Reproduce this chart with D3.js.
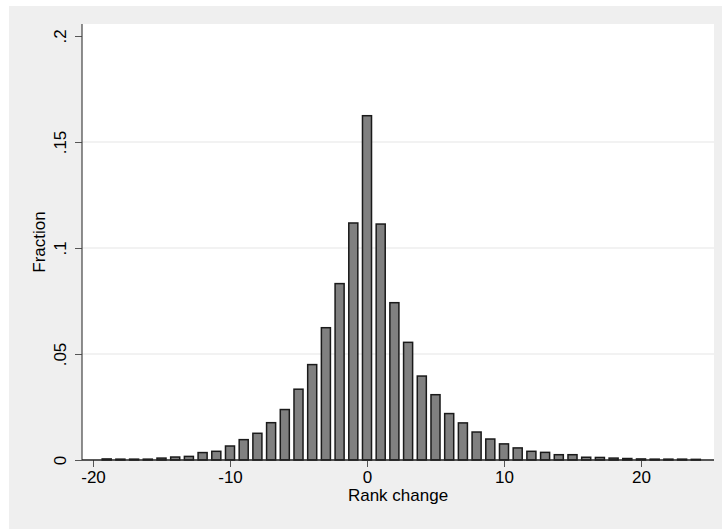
<!DOCTYPE html>
<html>
<head>
<meta charset="utf-8">
<script src="https://cdn.jsdelivr.net/npm/d3@7"></script>
<style>
  body { margin: 0; background: #fff; }
  svg { display: block; font-family: "Liberation Sans", Arial, sans-serif; }
</style>
</head>
<body>
<div id="chart"></div>
<script>
// Rank change histogram (fraction of observations per integer bin)
const rankChange = d3.range(-19, 25);
const fraction = [
  0.0005, 0.0004, 0.0004, 0.0004, 0.0009, 0.0014, 0.0017, 0.0035, 0.0041, 0.0066, // -19..-10
  0.0096, 0.0126, 0.0176, 0.0238, 0.0334, 0.0450, 0.0624, 0.0832, 0.1118,         // -9..-1
  0.1624,                                                                          // 0
  0.1113, 0.0742, 0.0555, 0.0396, 0.0308, 0.0219, 0.0175, 0.0132, 0.0099,         // 1..9
  0.0076, 0.0057, 0.0041, 0.0036, 0.0025, 0.0025, 0.0013, 0.0012, 0.0009, 0.0007, // 10..19
  0.0005, 0.0004, 0.0004, 0.0004, 0.0003                                           // 20..24
];
const xTicks = [-20, -10, 0, 10, 20];
const yTicks = [0, 0.05, 0.1, 0.15, 0.2];
const gridTicks = [0.05, 0.1, 0.15];
const xTitle = 'Rank change';
const yTitle = 'Fraction';

const width = 722, height = 529;
const plot = { left: 82, right: 714, top: 24, bottom: 460 };

const svg = d3.select('#chart').append('svg')
    .attr('width', width)
    .attr('height', height);

// outer graph region
svg.append('rect')
    .attr('x', 9).attr('y', 6)
    .attr('width', width - 9).attr('height', height - 6)
    .attr('fill', '#efefef');

// plot region
svg.append('rect')
    .attr('x', plot.left).attr('y', plot.top)
    .attr('width', plot.right - plot.left).attr('height', plot.bottom - plot.top)
    .attr('fill', '#fff');

const x = d3.scaleLinear([-20, 20], [93, 641]);
const y = d3.scaleLinear([0, 0.2], [plot.bottom, 36]);

// Stata style labels: no leading zero, plain hyphen for negatives
const fmt = d => d === 0 ? '0' : String(d).replace(/^0/, '');

// gridlines
svg.append('g')
    .selectAll('line')
    .data(gridTicks)
    .join('line')
    .attr('x1', plot.left).attr('x2', plot.right)
    .attr('y1', d => y(d)).attr('y2', d => y(d))
    .attr('stroke', '#e6e6e6')
    .attr('stroke-width', 1.2);

// bars
const barW = 0.66;
svg.append('g')
    .selectAll('rect')
    .data(rankChange.map((r, i) => [r, fraction[i]]))
    .join('rect')
    .attr('x', d => x(d[0] - barW / 2))
    .attr('width', x(barW) - x(0))
    .attr('y', d => y(d[1]))
    .attr('height', d => y(0) - y(d[1]))
    .attr('fill', '#808080')
    .attr('stroke', '#1a1a1a')
    .attr('stroke-width', 1.5);

// y axis
const axisY = svg.append('g')
    .attr('transform', `translate(${plot.left},0)`)
    .call(d3.axisLeft(y).tickValues(yTicks).tickFormat(fmt).tickSize(7).tickPadding(4));
axisY.select('.domain').remove();
axisY.append('line')
    .attr('y1', plot.top).attr('y2', plot.bottom)
    .attr('stroke', '#444').attr('stroke-width', 1.2);
axisY.selectAll('.tick line').attr('stroke', '#555');
axisY.selectAll('.tick text')
    .attr('transform', 'rotate(-90)')
    .attr('x', 0).attr('y', -16)
    .attr('dy', 0)
    .style('text-anchor', 'middle')
    .style('font-size', '17px')
    .attr('fill', '#000');

// x axis
const axisX = svg.append('g')
    .attr('transform', `translate(0,${plot.bottom})`)
    .call(d3.axisBottom(x).tickValues(xTicks).tickFormat(fmt).tickSize(7).tickPadding(4));
axisX.select('.domain').remove();
axisX.append('line')
    .attr('x1', plot.left).attr('x2', plot.right)
    .attr('stroke', '#222').attr('stroke-width', 1.3);
axisX.selectAll('.tick line').attr('stroke', '#555');
axisX.selectAll('.tick text')
    .style('font-size', '17px')
    .attr('fill', '#000');

// titles
svg.append('text')
    .attr('x', (plot.left + plot.right) / 2)
    .attr('y', 501)
    .style('text-anchor', 'middle')
    .style('font-size', '17px')
    .text(xTitle);

svg.append('text')
    .attr('transform', `translate(45,${(plot.top + plot.bottom) / 2}) rotate(-90)`)
    .style('text-anchor', 'middle')
    .style('font-size', '17px')
    .text(yTitle);
</script>
</body>
</html>
